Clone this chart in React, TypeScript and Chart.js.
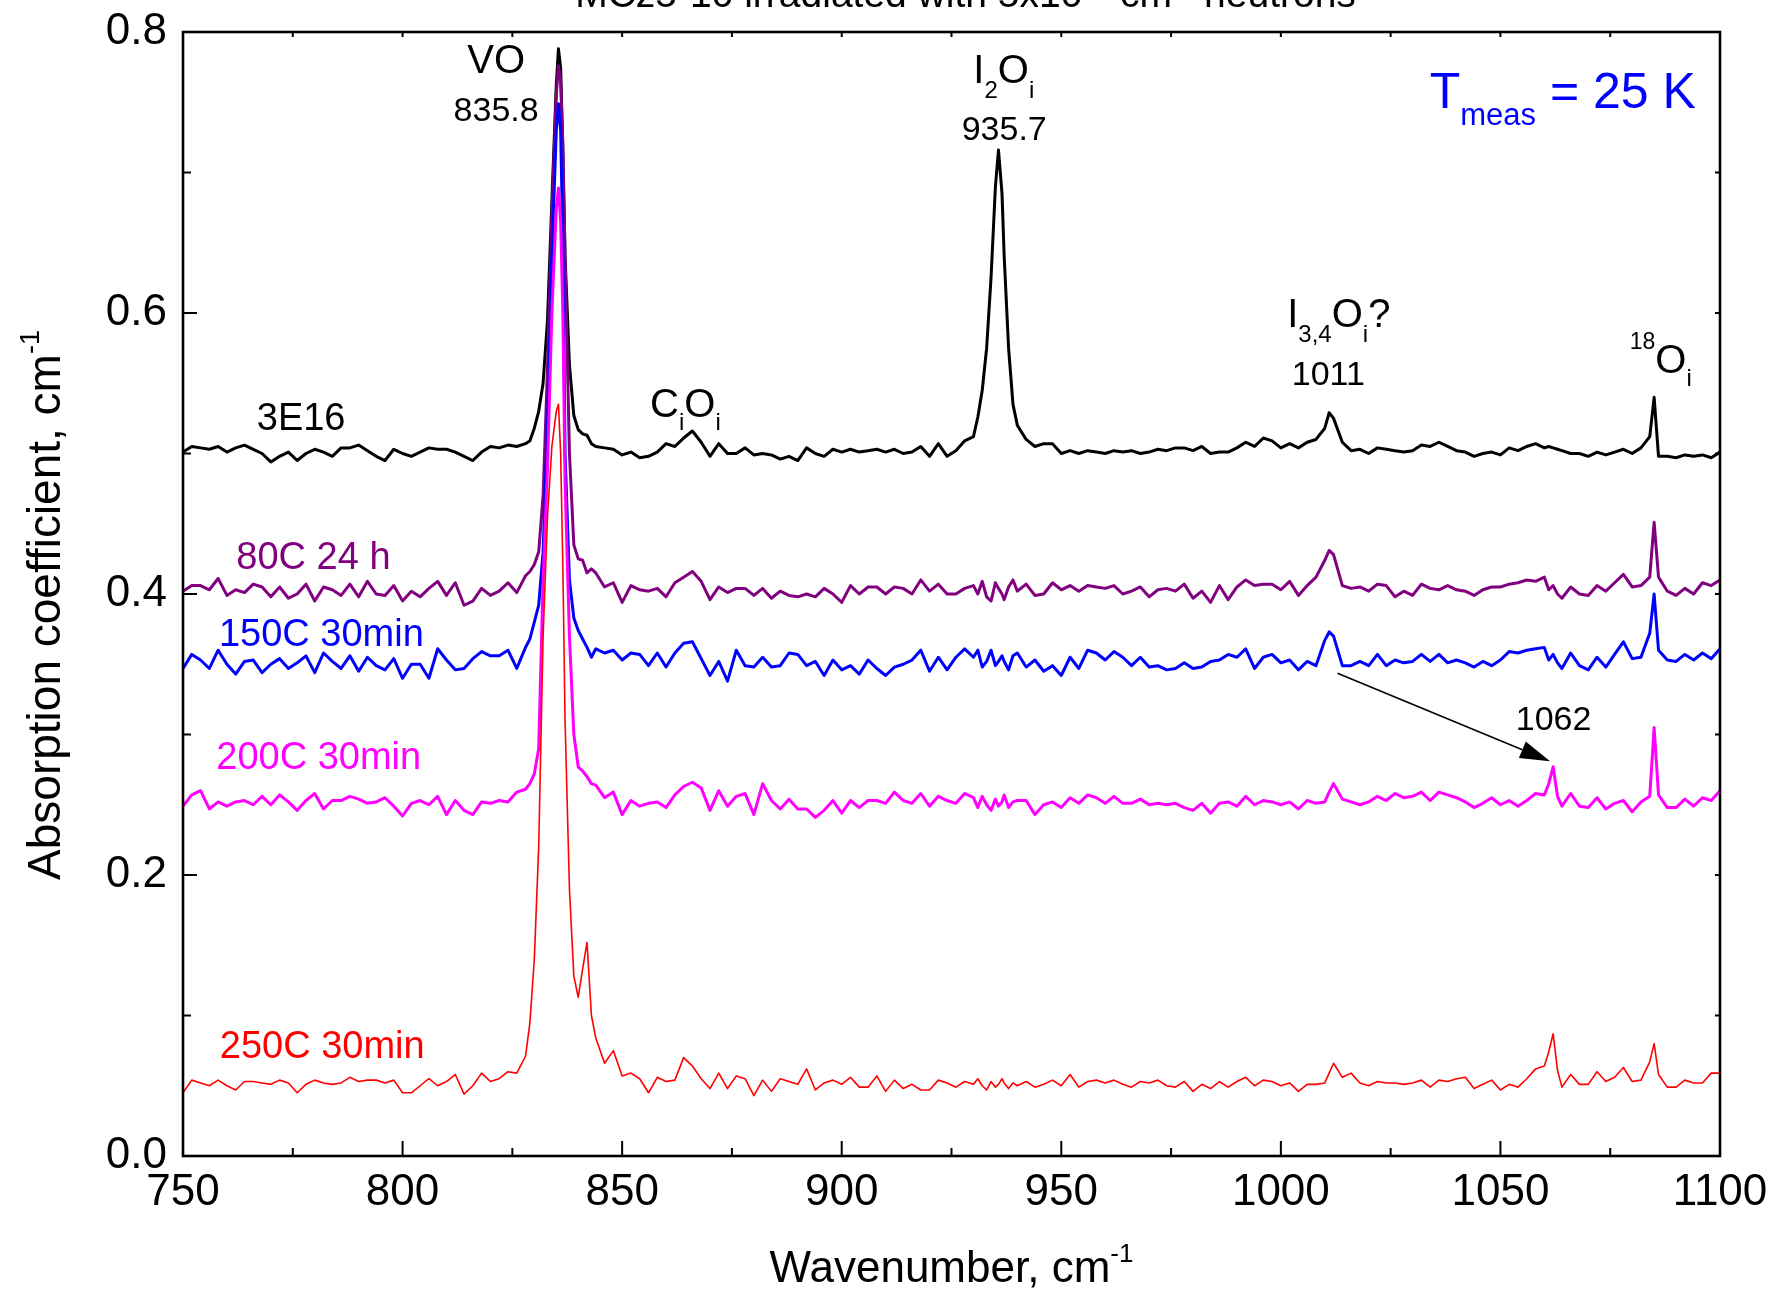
import React, { useEffect, useRef } from 'react';
import { Chart, registerables } from 'chart.js';

Chart.register(...registerables);

const FONT = '"Liberation Sans", Arial, Helvetica, sans-serif';
const CANVAS_W = 1774;
const CANVAS_H = 1295;

// ---- wavenumber grid (cm^-1) shared by all spectra ----
const WAVENUMBERS = [
  750, 752, 754, 756, 758, 760, 762, 764, 766, 768, 770, 772, 774, 776, 778, 780, 782, 784, 786, 788,
  790, 792, 794, 796, 798, 800, 802, 804, 806, 808, 810, 812, 814, 816, 818, 820, 822, 824, 826, 828,
  829, 830, 831, 832, 833, 834, 835, 835.5, 836, 836.5, 837, 838, 839, 840, 841, 842, 843,
  844, 846, 848, 850, 852, 854, 856, 858, 860, 862, 864, 866, 868, 870, 872, 874, 876, 878, 880, 882,
  884, 886, 888, 890, 892, 894, 896, 898, 900, 902, 904, 906, 908, 910, 912, 914, 916, 918, 920, 922,
  924, 926, 928, 930,
  931, 932, 933, 934, 935, 935.7, 936.5, 937, 938, 939, 940,
  942, 944, 946, 948, 950, 952, 954, 956, 958, 960, 962, 964, 966, 968, 970,
  972, 974, 976, 978, 980, 982, 984, 986, 988, 990, 992, 994, 996, 998, 1000, 1002, 1004, 1006, 1008, 1010,
  1011,
  1012, 1014, 1016, 1018, 1020, 1022, 1024, 1026, 1028, 1030, 1032, 1034, 1036, 1038, 1040, 1042, 1044, 1046, 1048, 1050,
  1052, 1054, 1056, 1058, 1060,
  1061, 1062, 1063,
  1064, 1066, 1068, 1070, 1072, 1074, 1076, 1078, 1080, 1082, 1084,
  1085,
  1086, 1088, 1090, 1092, 1094, 1096, 1098, 1100,
];

// ---- absorption coefficient (cm^-1) ----
const ABS_3E16 = [
  0.501, 0.505, 0.504, 0.503, 0.505, 0.501, 0.504, 0.506, 0.503, 0.500, 0.494, 0.498, 0.501, 0.495, 0.500, 0.503, 0.501, 0.498, 0.504, 0.504,
  0.506, 0.502, 0.498, 0.495, 0.503, 0.500, 0.498, 0.501, 0.504, 0.503, 0.503, 0.501, 0.498, 0.495, 0.501, 0.505, 0.504, 0.506, 0.505, 0.507,
  0.509, 0.518, 0.530, 0.550, 0.595, 0.680, 0.762, 0.788, 0.774, 0.714, 0.640, 0.563, 0.527, 0.517, 0.514, 0.513, 0.507,
  0.505, 0.504, 0.503, 0.499, 0.501, 0.497, 0.498, 0.501, 0.507, 0.505, 0.511, 0.516, 0.508, 0.498, 0.507, 0.500, 0.500, 0.504, 0.499, 0.500,
  0.499, 0.496, 0.498, 0.495, 0.504, 0.500, 0.498, 0.503, 0.501, 0.503, 0.501, 0.502, 0.503, 0.501, 0.503, 0.500, 0.501, 0.505, 0.498, 0.507,
  0.498, 0.502, 0.509, 0.512,
  0.526, 0.545, 0.575, 0.625, 0.690, 0.716, 0.685, 0.640, 0.575, 0.535, 0.520,
  0.510, 0.505, 0.507, 0.507, 0.500, 0.502, 0.500, 0.502, 0.501, 0.500, 0.502, 0.501, 0.502, 0.500, 0.501,
  0.503, 0.502, 0.504, 0.504, 0.502, 0.505, 0.500, 0.501, 0.501, 0.504, 0.508, 0.505, 0.511, 0.509, 0.504, 0.507, 0.504, 0.508, 0.510, 0.518,
  0.529,
  0.525, 0.508, 0.502, 0.503, 0.500, 0.504, 0.503, 0.502, 0.501, 0.502, 0.506, 0.505, 0.508, 0.505, 0.502, 0.501, 0.498, 0.500, 0.501, 0.499,
  0.504, 0.502, 0.505, 0.507, 0.504,
  0.505, 0.504, 0.503,
  0.502, 0.500, 0.500, 0.498, 0.501, 0.499, 0.501, 0.503, 0.500, 0.504, 0.512,
  0.540,
  0.498, 0.498, 0.497, 0.499, 0.498, 0.499, 0.497, 0.501,
];

const ABS_80C_24H = [
  0.402, 0.406, 0.406, 0.403, 0.411, 0.399, 0.403, 0.401, 0.407, 0.405, 0.398, 0.405, 0.397, 0.400, 0.407, 0.395, 0.405, 0.403, 0.399, 0.407,
  0.398, 0.409, 0.400, 0.399, 0.406, 0.395, 0.402, 0.398, 0.404, 0.409, 0.399, 0.408, 0.392, 0.395, 0.404, 0.399, 0.402, 0.408, 0.401, 0.413,
  0.416, 0.421, 0.430, 0.470, 0.560, 0.670, 0.755, 0.776, 0.765, 0.720, 0.640, 0.500, 0.435, 0.425, 0.424, 0.415, 0.418,
  0.415, 0.405, 0.408, 0.394, 0.406, 0.403, 0.402, 0.404, 0.398, 0.408, 0.412, 0.416, 0.409, 0.396, 0.405, 0.401, 0.404, 0.404, 0.399, 0.404,
  0.397, 0.402, 0.399, 0.398, 0.400, 0.398, 0.404, 0.400, 0.394, 0.406, 0.400, 0.405, 0.405, 0.400, 0.405, 0.404, 0.400, 0.410, 0.402, 0.407,
  0.400, 0.400, 0.404, 0.406,
  0.400, 0.409, 0.398, 0.395, 0.408, 0.404, 0.400, 0.396, 0.405, 0.410, 0.402,
  0.407, 0.399, 0.400, 0.408, 0.403, 0.406, 0.402, 0.406, 0.405, 0.404, 0.406, 0.400, 0.402, 0.405, 0.398,
  0.403, 0.404, 0.402, 0.407, 0.397, 0.402, 0.394, 0.406, 0.396, 0.405, 0.410, 0.406, 0.407, 0.407, 0.403, 0.409, 0.399, 0.406, 0.412, 0.424,
  0.431,
  0.428, 0.406, 0.404, 0.405, 0.402, 0.407, 0.406, 0.398, 0.402, 0.399, 0.407, 0.404, 0.403, 0.406, 0.403, 0.402, 0.399, 0.403, 0.405, 0.405,
  0.407, 0.408, 0.410, 0.409, 0.412,
  0.403, 0.406, 0.400,
  0.397, 0.405, 0.400, 0.399, 0.406, 0.402, 0.408, 0.414, 0.405, 0.406, 0.412,
  0.451,
  0.412, 0.402, 0.399, 0.404, 0.400, 0.408, 0.406, 0.410,
];

const ABS_150C_30MIN = [
  0.347, 0.357, 0.353, 0.347, 0.360, 0.350, 0.343, 0.352, 0.353, 0.344, 0.350, 0.354, 0.347, 0.351, 0.356, 0.344, 0.358, 0.352, 0.347, 0.356,
  0.345, 0.355, 0.349, 0.346, 0.354, 0.340, 0.350, 0.350, 0.340, 0.361, 0.353, 0.346, 0.347, 0.354, 0.359, 0.356, 0.356, 0.360, 0.347, 0.362,
  0.368, 0.380, 0.392, 0.430, 0.520, 0.640, 0.730, 0.749, 0.730, 0.650, 0.500, 0.410, 0.383, 0.374, 0.368, 0.362, 0.355,
  0.361, 0.358, 0.360, 0.353, 0.358, 0.357, 0.349, 0.358, 0.348, 0.358, 0.365, 0.366, 0.354, 0.342, 0.352, 0.338, 0.360, 0.349, 0.348, 0.355,
  0.348, 0.349, 0.358, 0.357, 0.349, 0.352, 0.342, 0.353, 0.346, 0.349, 0.343, 0.353, 0.347, 0.342, 0.348, 0.350, 0.353, 0.360, 0.345, 0.355,
  0.346, 0.355, 0.361, 0.355,
  0.360, 0.348, 0.352, 0.360, 0.349, 0.352, 0.356, 0.352, 0.346, 0.356, 0.358,
  0.348, 0.353, 0.345, 0.349, 0.342, 0.355, 0.347, 0.360, 0.358, 0.353, 0.359, 0.355, 0.349, 0.355, 0.348,
  0.349, 0.346, 0.347, 0.351, 0.347, 0.348, 0.352, 0.353, 0.357, 0.355, 0.361, 0.347, 0.355, 0.357, 0.351, 0.353, 0.346, 0.352, 0.349, 0.367,
  0.373,
  0.370, 0.349, 0.349, 0.352, 0.349, 0.357, 0.349, 0.353, 0.351, 0.352, 0.357, 0.352, 0.357, 0.351, 0.353, 0.351, 0.348, 0.352, 0.349, 0.353,
  0.359, 0.358, 0.360, 0.361, 0.362,
  0.353, 0.357, 0.351,
  0.347, 0.358, 0.349, 0.346, 0.355, 0.348, 0.357, 0.366, 0.354, 0.355, 0.372,
  0.400,
  0.360, 0.353, 0.352, 0.357, 0.353, 0.358, 0.354, 0.361,
];

const ABS_200C_30MIN = [
  0.249, 0.257, 0.260, 0.247, 0.252, 0.249, 0.252, 0.253, 0.250, 0.256, 0.250, 0.257, 0.252, 0.246, 0.253, 0.258, 0.247, 0.253, 0.253, 0.256,
  0.254, 0.251, 0.252, 0.255, 0.249, 0.242, 0.251, 0.253, 0.250, 0.256, 0.243, 0.253, 0.246, 0.243, 0.252, 0.251, 0.253, 0.252, 0.259, 0.261,
  0.265, 0.272, 0.290, 0.410, 0.490, 0.600, 0.675, 0.689, 0.665, 0.600, 0.480, 0.370, 0.300, 0.277, 0.274, 0.270, 0.265,
  0.264, 0.255, 0.259, 0.243, 0.253, 0.249, 0.251, 0.252, 0.248, 0.257, 0.263, 0.266, 0.262, 0.246, 0.260, 0.249, 0.256, 0.258, 0.243, 0.265,
  0.253, 0.247, 0.254, 0.247, 0.247, 0.241, 0.246, 0.253, 0.244, 0.253, 0.248, 0.253, 0.253, 0.251, 0.259, 0.253, 0.251, 0.258, 0.249, 0.256,
  0.253, 0.251, 0.258, 0.255,
  0.248, 0.256, 0.250, 0.246, 0.254, 0.249, 0.252, 0.257, 0.248, 0.252, 0.253,
  0.253, 0.243, 0.250, 0.252, 0.248, 0.255, 0.251, 0.257, 0.255, 0.251, 0.256, 0.251, 0.251, 0.254, 0.250,
  0.251, 0.250, 0.251, 0.248, 0.246, 0.251, 0.244, 0.251, 0.252, 0.249, 0.256, 0.250, 0.253, 0.252, 0.250, 0.252, 0.247, 0.253, 0.251, 0.252,
  0.259,
  0.265, 0.254, 0.252, 0.250, 0.252, 0.256, 0.253, 0.258, 0.255, 0.256, 0.259, 0.253, 0.259, 0.257, 0.255, 0.252, 0.248, 0.251, 0.255, 0.250,
  0.253, 0.249, 0.253, 0.258, 0.257,
  0.265, 0.277, 0.256,
  0.249, 0.258, 0.249, 0.248, 0.255, 0.247, 0.251, 0.253, 0.245, 0.252, 0.256,
  0.305,
  0.257, 0.248, 0.248, 0.254, 0.249, 0.255, 0.253, 0.260,
];

const ABS_250C_30MIN = [
  0.045, 0.054, 0.052, 0.050, 0.054, 0.050, 0.047, 0.053, 0.053, 0.052, 0.051, 0.054, 0.052, 0.045, 0.051, 0.054, 0.052, 0.051, 0.052, 0.056,
  0.053, 0.054, 0.054, 0.052, 0.054, 0.045, 0.045, 0.050, 0.055, 0.050, 0.053, 0.058, 0.044, 0.050, 0.059, 0.053, 0.055, 0.060, 0.059, 0.071,
  0.095, 0.140, 0.220, 0.370, 0.455, 0.505, 0.530, 0.535, 0.500, 0.420, 0.310, 0.190, 0.128, 0.113, 0.133, 0.152, 0.100,
  0.084, 0.066, 0.075, 0.057, 0.059, 0.055, 0.045, 0.056, 0.053, 0.054, 0.070, 0.064, 0.055, 0.048, 0.059, 0.048, 0.057, 0.055, 0.043, 0.054,
  0.046, 0.055, 0.053, 0.051, 0.062, 0.047, 0.052, 0.054, 0.051, 0.056, 0.049, 0.049, 0.057, 0.046, 0.054, 0.048, 0.051, 0.047, 0.047, 0.054,
  0.052, 0.049, 0.053, 0.051,
  0.055, 0.050, 0.047, 0.053, 0.049, 0.051, 0.055, 0.052, 0.048, 0.052, 0.050,
  0.053, 0.049, 0.051, 0.054, 0.050, 0.058, 0.049, 0.053, 0.054, 0.052, 0.054, 0.051, 0.049, 0.053, 0.052,
  0.054, 0.050, 0.049, 0.053, 0.046, 0.051, 0.048, 0.053, 0.049, 0.053, 0.056, 0.050, 0.054, 0.053, 0.050, 0.052, 0.046, 0.051, 0.051, 0.052,
  0.059,
  0.066, 0.056, 0.059, 0.052, 0.050, 0.053, 0.052, 0.052, 0.051, 0.052, 0.054, 0.049, 0.054, 0.053, 0.055, 0.056, 0.048, 0.051, 0.054, 0.047,
  0.051, 0.049, 0.055, 0.062, 0.064,
  0.074, 0.087, 0.061,
  0.049, 0.058, 0.051, 0.051, 0.060, 0.053, 0.056, 0.063, 0.053, 0.054, 0.067,
  0.080,
  0.058, 0.049, 0.049, 0.054, 0.052, 0.052, 0.059, 0.059,
];

const SERIES_NAMES = ['3E16', '80C 24 h', '150C 30min', '200C 30min', '250C 30min'];
const SERIES_VALUES = [ABS_3E16, ABS_80C_24H, ABS_150C_30MIN, ABS_200C_30MIN, ABS_250C_30MIN];
const SERIES_COLORS = ['#000000', '#800080', '#0000ff', '#ff00ff', '#ff0000'];
const SERIES_WIDTHS = [3, 3, 3, 3, 1.6];

const X_MAJOR_TICKS = [750, 800, 850, 900, 950, 1000, 1050, 1100];
const X_MINOR_TICKS = [775, 825, 875, 925, 975, 1025, 1075];
const Y_MAJOR_TICKS = [0, 0.2, 0.4, 0.6, 0.8];
const Y_MINOR_TICKS = [0.1, 0.3, 0.5, 0.7];

type Seg = { t: string; s: number; dy: number };
type Label = { x: number; y: number; align: 'center' | 'left'; color: string; segs: Seg[] };

// annotation anchors in data coordinates (wavenumber, absorption); y = text baseline
const LABELS: Label[] = [
  { x: 821.3, y: 0.771, align: 'center', color: '#000', segs: [{ t: 'VO', s: 40, dy: 0 }] },
  { x: 821.3, y: 0.737, align: 'center', color: '#000', segs: [{ t: '835.8', s: 34, dy: 0 }] },
  { x: 936.9, y: 0.764, align: 'center', color: '#000', segs: [{ t: 'I', s: 40, dy: 0 }, { t: '2', s: 24, dy: 15 }, { t: 'O', s: 40, dy: 0 }, { t: 'i', s: 24, dy: 15 }] },
  { x: 937.0, y: 0.723, align: 'center', color: '#000', segs: [{ t: '935.7', s: 34, dy: 0 }] },
  { x: 864.4, y: 0.526, align: 'center', color: '#000', segs: [{ t: 'C', s: 40, dy: 0 }, { t: 'i', s: 24, dy: 13 }, { t: 'O', s: 40, dy: 0 }, { t: 'i', s: 24, dy: 13 }] },
  { x: 776.9, y: 0.517, align: 'center', color: '#000', segs: [{ t: '3E16', s: 38, dy: 0 }] },
  { x: 1013.2, y: 0.590, align: 'center', color: '#000', segs: [{ t: 'I', s: 40, dy: 0 }, { t: '3,4', s: 24, dy: 15 }, { t: 'O', s: 40, dy: 0 }, { t: 'i', s: 24, dy: 15 }, { t: '?', s: 40, dy: 0 }] },
  { x: 1010.8, y: 0.549, align: 'center', color: '#000', segs: [{ t: '1011', s: 34, dy: 0 }] },
  { x: 1086.5, y: 0.557, align: 'center', color: '#000', segs: [{ t: '18', s: 23, dy: -24 }, { t: 'O', s: 40, dy: 0 }, { t: 'i', s: 24, dy: 13 }] },
  { x: 1033.9, y: 0.746, align: 'left', color: '#0000ff', segs: [{ t: 'T', s: 50, dy: 0 }, { t: 'meas', s: 31, dy: 17 }, { t: ' = 25 K', s: 50, dy: 0 }] },
  { x: 779.7, y: 0.418, align: 'center', color: '#800080', segs: [{ t: '80C 24 h', s: 38, dy: 0 }] },
  { x: 781.5, y: 0.363, align: 'center', color: '#0000ff', segs: [{ t: '150C 30min', s: 38, dy: 0 }] },
  { x: 780.9, y: 0.2755, align: 'center', color: '#ff00ff', segs: [{ t: '200C 30min', s: 38, dy: 0 }] },
  { x: 781.7, y: 0.0701, align: 'center', color: '#ff0000', segs: [{ t: '250C 30min', s: 38, dy: 0 }] },
  { x: 1062.1, y: 0.303, align: 'center', color: '#000', segs: [{ t: '1062', s: 34, dy: 0 }] },
];

const ARROW_FROM = { x: 1012.9, y: 0.3436 };
const ARROW_TO = { x: 1061.3, y: 0.281 };

const TITLE_SEGS: Seg[] = [
  { t: 'MCz5-10 irradiated with 5x10', s: 39, dy: 0 },
  { t: '14', s: 24, dy: -18 },
  { t: ' cm', s: 39, dy: 0 },
  { t: '-2', s: 24, dy: -18 },
  { t: ' neutrons', s: 39, dy: 0 },
];
const X_TITLE_SEGS: Seg[] = [{ t: 'Wavenumber, cm', s: 44, dy: 0 }, { t: '-1', s: 26, dy: -20 }];
const Y_TITLE_SEGS: Seg[] = [{ t: 'Absorption coefficient, cm', s: 46, dy: 0 }, { t: '-1', s: 27, dy: -21 }];

function segsWidth(ctx: CanvasRenderingContext2D, segs: Seg[]) {
  let w = 0;
  for (const s of segs) {
    ctx.font = `${s.s}px ${FONT}`;
    w += ctx.measureText(s.t).width;
  }
  return w;
}

function drawSegs(ctx: CanvasRenderingContext2D, segs: Seg[], x: number, y: number, align: 'center' | 'left', color: string) {
  const total = segsWidth(ctx, segs);
  let cx = align === 'center' ? x - total / 2 : x;
  ctx.fillStyle = color;
  ctx.textAlign = 'left';
  ctx.textBaseline = 'alphabetic';
  for (const s of segs) {
    ctx.font = `${s.s}px ${FONT}`;
    ctx.fillText(s.t, cx, y + s.dy);
    cx += ctx.measureText(s.t).width;
  }
}

const decorPlugin = {
  id: 'decor',
  afterDraw(chart: any) {
    const ctx: CanvasRenderingContext2D = chart.ctx;
    const { left, right, top, bottom } = chart.chartArea;
    const xs = chart.scales.x;
    const ys = chart.scales.y;
    ctx.save();

    // frame
    ctx.strokeStyle = '#000';
    ctx.lineWidth = 2.6;
    ctx.strokeRect(left, top, right - left, bottom - top);

    const seg = (x1: number, y1: number, x2: number, y2: number) => {
      ctx.beginPath();
      ctx.moveTo(x1, y1);
      ctx.lineTo(x2, y2);
      ctx.stroke();
    };
    ctx.lineWidth = 2;
    for (const v of X_MAJOR_TICKS) {
      const p = xs.getPixelForValue(v);
      seg(p, bottom, p, bottom - 15);
      seg(p, top, p, top + 5);
    }
    for (const v of X_MINOR_TICKS) {
      const p = xs.getPixelForValue(v);
      seg(p, bottom, p, bottom - 8);
      seg(p, top, p, top + 5);
    }
    for (const v of Y_MAJOR_TICKS) {
      const p = ys.getPixelForValue(v);
      seg(left, p, left + 14, p);
      seg(right, p, right - 5, p);
    }
    for (const v of Y_MINOR_TICKS) {
      const p = ys.getPixelForValue(v);
      seg(left, p, left + 8, p);
      seg(right, p, right - 5, p);
    }

    // annotations
    for (const l of LABELS) {
      drawSegs(ctx, l.segs, xs.getPixelForValue(l.x), ys.getPixelForValue(l.y), l.align, l.color);
    }

    // arrow 1011 -> 1062
    const ax1 = xs.getPixelForValue(ARROW_FROM.x);
    const ay1 = ys.getPixelForValue(ARROW_FROM.y);
    const ax2 = xs.getPixelForValue(ARROW_TO.x);
    const ay2 = ys.getPixelForValue(ARROW_TO.y);
    const ang = Math.atan2(ay2 - ay1, ax2 - ax1);
    const headL = 30;
    const headW = 9;
    ctx.strokeStyle = '#000';
    ctx.lineWidth = 1.6;
    seg(ax1, ay1, ax2 - headL * Math.cos(ang), ay2 - headL * Math.sin(ang));
    ctx.fillStyle = '#000';
    ctx.beginPath();
    ctx.moveTo(ax2, ay2);
    ctx.lineTo(ax2 - headL * Math.cos(ang) + headW * Math.sin(ang), ay2 - headL * Math.sin(ang) - headW * Math.cos(ang));
    ctx.lineTo(ax2 - headL * Math.cos(ang) - headW * Math.sin(ang), ay2 - headL * Math.sin(ang) + headW * Math.cos(ang));
    ctx.closePath();
    ctx.fill();

    // titles
    const cxMid = (left + right) / 2;
    drawSegs(ctx, TITLE_SEGS, cxMid + 14, 7, 'center', '#000');
    drawSegs(ctx, X_TITLE_SEGS, cxMid, bottom + 126, 'center', '#000');
    ctx.save();
    ctx.translate(60, (top + bottom) / 2 + 11);
    ctx.rotate(-Math.PI / 2);
    drawSegs(ctx, Y_TITLE_SEGS, 0, 0, 'center', '#000');
    ctx.restore();

    ctx.restore();
  },
};

export default function App() {
  const canvasRef = useRef<HTMLCanvasElement | null>(null);

  useEffect(() => {
    const canvas = canvasRef.current;
    if (!canvas) return;
    const n = WAVENUMBERS.length;
    const datasets = SERIES_NAMES.map((name, i) => ({
      label: name,
      data: WAVENUMBERS.map((x, j) => ({ x, y: SERIES_VALUES[i][Math.min(j, SERIES_VALUES[i].length - 1)] })).slice(0, n),
      borderColor: SERIES_COLORS[i],
      backgroundColor: SERIES_COLORS[i],
      borderWidth: SERIES_WIDTHS[i],
      borderJoinStyle: 'round' as const,
      pointRadius: 0,
      pointHoverRadius: 0,
      fill: false,
      tension: 0,
      order: SERIES_NAMES.length - i,
    }));

    const chart = new Chart(canvas, {
      type: 'line',
      data: { datasets },
      options: {
        animation: false,
        responsive: false,
        devicePixelRatio: 1,
        events: [],
        layout: { padding: { top: 32, right: 54, left: 0, bottom: 0 } },
        plugins: {
          legend: { display: false },
          tooltip: { enabled: false },
          title: { display: false },
        },
        scales: {
          x: {
            type: 'linear',
            min: 750,
            max: 1100,
            grid: { display: false, drawTicks: false },
            border: { display: false },
            ticks: {
              stepSize: 50,
              autoSkip: false,
              maxRotation: 0,
              padding: 10,
              color: '#000',
              font: { family: FONT, size: 44 },
              callback: (v: any) => String(v),
            },
            afterFit: (s: any) => {
              s.height = 139;
              s.paddingLeft = 0;
              s.paddingRight = 0;
            },
          },
          y: {
            type: 'linear',
            min: 0,
            max: 0.8,
            grid: { display: false, drawTicks: false },
            border: { display: false },
            ticks: {
              stepSize: 0.2,
              padding: 16,
              color: '#000',
              font: { family: FONT, size: 44 },
              callback: (v: any) => Number(v).toFixed(1),
            },
            afterFit: (s: any) => {
              s.width = 183;
              s.paddingTop = 0;
              s.paddingBottom = 0;
            },
          },
        },
      },
      plugins: [decorPlugin],
    });

    return () => chart.destroy();
  }, []);

  return (
    <div style={{ position: 'absolute', left: 0, top: 0, width: CANVAS_W, height: CANVAS_H, background: '#fff' }}>
      <canvas ref={canvasRef} width={CANVAS_W} height={CANVAS_H} style={{ display: 'block', width: CANVAS_W, height: CANVAS_H }} />
    </div>
  );
}
